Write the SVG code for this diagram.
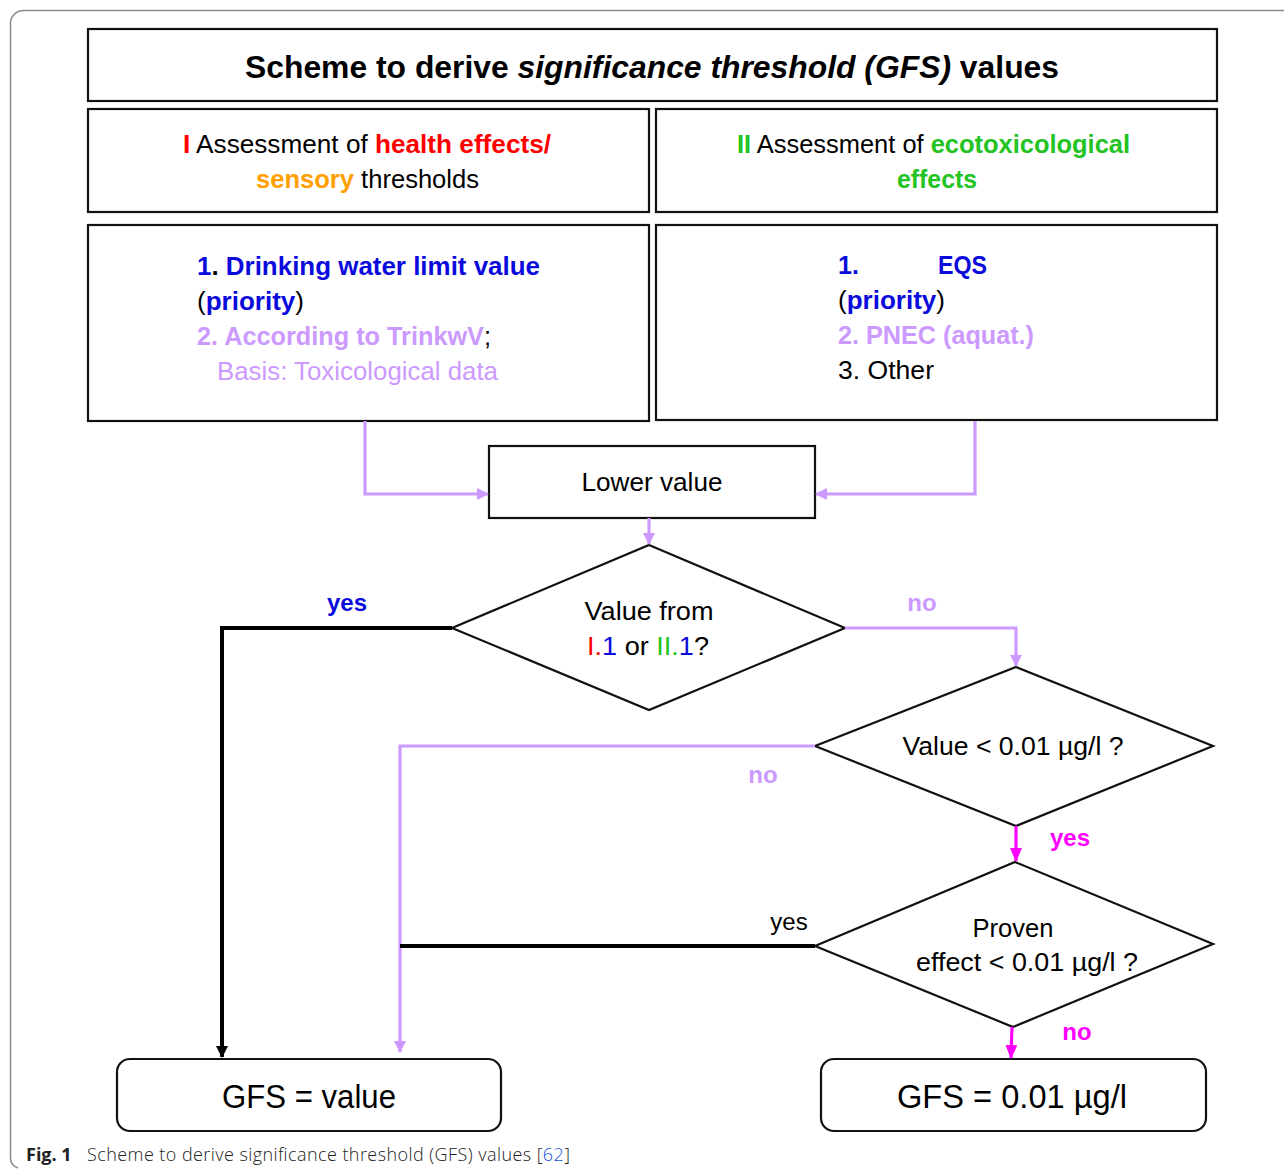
<svg xmlns="http://www.w3.org/2000/svg" width="1284" height="1170" viewBox="0 0 1284 1170">
<style>
  .t{font-family:"Liberation Sans",Arial,sans-serif;fill:#000}
  .b{font-weight:bold}
  .box{fill:#fff;stroke:#111;stroke-width:2.2}
  .lav{fill:none;stroke:#CC99FF;stroke-width:3.2}
  .blk{fill:none;stroke:#000;stroke-width:4}
  .mag{fill:none;stroke:#FF00FF;stroke-width:3.2}
  .cBlue{fill:#0a0adc}
  .cRed{fill:#ff0000}
  .cOr{fill:#ffa000}
  .cGr{fill:#22c322}
  .cLav{fill:#CC99FF}
  .cMag{fill:#FF00FF}
</style>
<defs>
  <marker id="aLav" markerUnits="userSpaceOnUse" markerWidth="12" markerHeight="12" refX="11" refY="6" orient="auto"><path d="M0,0 L12,6 L0,12 z" fill="#CC99FF"/></marker>
  <marker id="aBlk" markerUnits="userSpaceOnUse" markerWidth="12" markerHeight="12" refX="11" refY="6" orient="auto"><path d="M0,0 L12,6 L0,12 z" fill="#000"/></marker>
  <marker id="aMag" markerUnits="userSpaceOnUse" markerWidth="14" markerHeight="12" refX="13" refY="6" orient="auto"><path d="M0,0 L14,6 L0,12 z" fill="#FF00FF"/></marker>
</defs>
<rect width="1284" height="1170" fill="#fff"/>
<path d="M1284,10.5 H24 A13,13 0 0 0 10.5,24 V1158 A10,10 0 0 0 18,1168" fill="none" stroke="#8a8a8a" stroke-width="1.5"/>

<g id="title">
  <rect class="box" x="88" y="29" width="1129" height="72"/>
  <text class="t b" x="652" y="78" font-size="32" text-anchor="middle" textLength="814" lengthAdjust="spacingAndGlyphs">Scheme to derive <tspan font-style="italic">significance threshold (GFS)</tspan> values</text>
</g>

<g id="headI">
  <rect class="box" x="88" y="109" width="561" height="103"/>
  <text class="t" x="183" y="153" font-size="25" textLength="368" lengthAdjust="spacingAndGlyphs"><tspan class="cRed b">I</tspan> Assessment of <tspan class="cRed b">health effects/</tspan></text>
  <text class="t" x="256" y="188" font-size="25" textLength="223" lengthAdjust="spacingAndGlyphs"><tspan class="cOr b">sensory</tspan> thresholds</text>
</g>

<g id="headII">
  <rect class="box" x="656" y="109" width="561" height="103"/>
  <text class="t" x="737" y="153" font-size="25" textLength="393" lengthAdjust="spacingAndGlyphs"><tspan class="cGr b">II</tspan> Assessment of <tspan class="cGr b">ecotoxicological</tspan></text>
  <text class="t cGr b" x="897" y="188" font-size="25" textLength="80" lengthAdjust="spacingAndGlyphs">effects</text>
</g>

<g id="boxI">
  <rect class="box" x="88" y="225" width="561" height="196"/>
  <text class="t b" x="197" y="275" font-size="25" textLength="343" lengthAdjust="spacingAndGlyphs"><tspan class="cBlue">1</tspan>. <tspan class="cBlue">Drinking water limit value</tspan></text>
  <text class="t" x="197" y="310" font-size="25" textLength="107" lengthAdjust="spacingAndGlyphs">(<tspan class="cBlue b">priority</tspan>)</text>
  <text class="t" x="197" y="345" font-size="25" textLength="294" lengthAdjust="spacingAndGlyphs"><tspan class="cLav b">2. According to TrinkwV</tspan>;</text>
  <text class="t cLav" x="217" y="380" font-size="25" textLength="281" lengthAdjust="spacingAndGlyphs">Basis: Toxicological data</text>
</g>

<g id="boxII">
  <rect class="box" x="656" y="225" width="561" height="195"/>
  <text class="t b cBlue" x="838" y="274" font-size="25">1.</text>
  <text class="t b cBlue" x="938" y="274" font-size="25" textLength="49" lengthAdjust="spacingAndGlyphs">EQS</text>
  <text class="t" x="838" y="309" font-size="25" textLength="107" lengthAdjust="spacingAndGlyphs">(<tspan class="cBlue b">priority</tspan>)</text>
  <text class="t b cLav" x="838" y="344" font-size="25" textLength="196" lengthAdjust="spacingAndGlyphs">2. PNEC (aquat.)</text>
  <text class="t" x="838" y="379" font-size="25" textLength="96" lengthAdjust="spacingAndGlyphs">3. Other</text>
</g>

<g id="lower">
  <rect class="box" x="489" y="446" width="326" height="72"/>
  <text class="t" x="652" y="491" font-size="25" text-anchor="middle" textLength="141" lengthAdjust="spacingAndGlyphs">Lower value</text>
</g>

<g id="dec1">
  <polygon class="box" points="649,545 845,628 649,710 452,628"/>
  <text class="t" x="649" y="620" font-size="25" text-anchor="middle" textLength="129" lengthAdjust="spacingAndGlyphs">Value from</text>
  <text class="t" x="648" y="655" font-size="25" text-anchor="middle" textLength="122" lengthAdjust="spacingAndGlyphs"><tspan class="cRed">I.</tspan><tspan class="cBlue">1</tspan> or <tspan class="cGr">II.</tspan><tspan class="cBlue">1</tspan>?</text>
</g>

<g id="dec2">
  <polygon class="box" points="1016,667 1213,746 1016,826 815,746"/>
  <text class="t" x="1013" y="755" font-size="25" text-anchor="middle" textLength="221" lengthAdjust="spacingAndGlyphs">Value &lt; 0.01 µg/l ?</text>
</g>

<g id="dec3">
  <polygon class="box" points="1015,862 1213,944 1013,1027 815,946"/>
  <text class="t" x="1013" y="937" font-size="25" text-anchor="middle" textLength="81" lengthAdjust="spacingAndGlyphs">Proven</text>
  <text class="t" x="1027" y="971" font-size="25" text-anchor="middle" textLength="222" lengthAdjust="spacingAndGlyphs">effect &lt; 0.01 µg/l ?</text>
</g>

<g id="gfsValue">
  <rect class="box" x="117" y="1059" width="384" height="72" rx="13"/>
  <text class="t" x="309" y="1108" font-size="34" text-anchor="middle" textLength="174" lengthAdjust="spacingAndGlyphs">GFS = value</text>
</g>

<g id="gfsFixed">
  <rect class="box" x="821" y="1059" width="385" height="72" rx="13"/>
  <text class="t" x="1012" y="1108" font-size="34" text-anchor="middle" textLength="230" lengthAdjust="spacingAndGlyphs">GFS = 0.01 µg/l</text>
</g>

<g id="connectors">
  <polyline class="lav" points="365,421 365,494 488,494" marker-end="url(#aLav)"/>
  <polyline class="lav" points="975,421 975,494 816,494" marker-end="url(#aLav)"/>
  <line class="lav" x1="649" y1="518" x2="649" y2="544" marker-end="url(#aLav)"/>
  <polyline class="blk" points="452,628 222,628 222,1057" marker-end="url(#aBlk)"/>
  <polyline class="lav" points="845,628 1016,628 1016,666" marker-end="url(#aLav)"/>
  <polyline class="lav" points="815,746 400,746 400,1052" marker-end="url(#aLav)"/>
  <line class="mag" x1="1016" y1="826" x2="1016" y2="861" marker-end="url(#aMag)"/>
  <line class="blk" x1="815" y1="946" x2="400" y2="946"/>
  <line class="mag" x1="1012" y1="1027" x2="1011" y2="1058" marker-end="url(#aMag)"/>
  <text class="t b cBlue" x="347" y="611" font-size="24" text-anchor="middle">yes</text>
  <text class="t b cLav" x="922" y="611" font-size="24" text-anchor="middle">no</text>
  <text class="t b cLav" x="763" y="783" font-size="24" text-anchor="middle">no</text>
  <text class="t b cMag" x="1070" y="846" font-size="24" text-anchor="middle">yes</text>
  <text class="t" x="789" y="930" font-size="24" text-anchor="middle">yes</text>
  <text class="t b cMag" x="1077" y="1040" font-size="24" text-anchor="middle">no</text>
</g>

<g id="caption">
  <text x="26" y="1161" font-family="'Open Sans','Noto Sans',sans-serif" font-size="18" fill="#222"><tspan font-weight="bold">Fig. 1</tspan><tspan x="87" font-weight="300" textLength="483">Scheme to derive significance threshold (GFS) values [<tspan fill="#1a4fd6">62</tspan>]</tspan></text>
</g>
</svg>
